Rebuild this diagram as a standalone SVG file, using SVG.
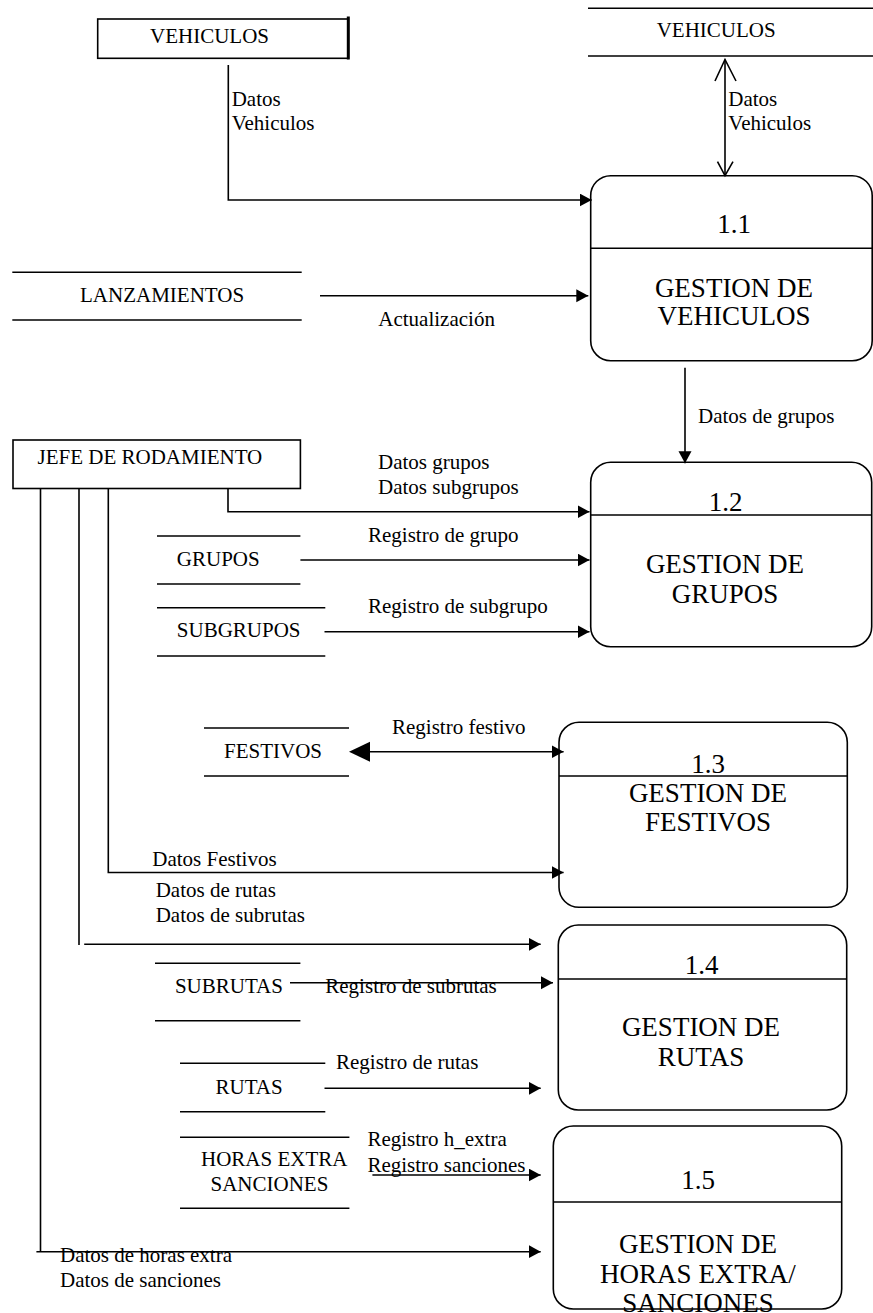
<svg xmlns="http://www.w3.org/2000/svg" width="873" height="1313" viewBox="0 0 873 1313">
<style>
  .bg{fill:#fff}
  .box{fill:none;stroke:#000;stroke-width:1.6}
  .ln{fill:none;stroke:#000;stroke-width:1.6}
  .lbl{font-family:"Liberation Serif","Times New Roman",serif;font-size:21px;fill:#000}
  .big{font-family:"Liberation Serif","Times New Roman",serif;font-size:27px;fill:#000;text-anchor:middle}
  .arr{marker-end:url(#ah)}
</style>
<defs>
  <marker id="ah" markerUnits="userSpaceOnUse" markerWidth="13" markerHeight="14" refX="12" refY="6.5" orient="auto">
    <path d="M0,0 L12,6.5 L0,13 Z" fill="#000"/>
  </marker>
  <marker id="ahBig" markerUnits="userSpaceOnUse" markerWidth="22" markerHeight="22" refX="21" refY="10" orient="auto-start-reverse">
    <path d="M0,0 L21,10 L0,20 Z" fill="#000"/>
  </marker>
</defs>
<rect class="bg" x="0" y="0" width="873" height="1313"/>

<g id="ent-vehiculos">
  <rect class="box" x="97.7" y="19" width="250.6" height="39.3"/>
  <line x1="348.3" y1="16.5" x2="348.3" y2="59.5" stroke="#000" stroke-width="3"/>
  <text class="lbl" x="150" y="42.5">VEHICULOS</text>
</g>

<g id="store-vehiculos">
  <line class="ln" x1="588" y1="8.3" x2="873" y2="8.3"/>
  <line class="ln" x1="588" y1="56" x2="873" y2="56"/>
  <text class="lbl" x="656.7" y="37.3">VEHICULOS</text>
</g>

<g id="store-lanzamientos">
  <line class="ln" x1="12.3" y1="272.3" x2="301.7" y2="272.3"/>
  <line class="ln" x1="12.3" y1="320" x2="301.7" y2="320"/>
  <text class="lbl" x="80" y="302">LANZAMIENTOS</text>
</g>

<g id="ent-jefe">
  <rect class="box" x="13" y="440" width="287.4" height="48.5"/>
  <text class="lbl" x="37.5" y="464">JEFE DE RODAMIENTO</text>
</g>

<g id="store-grupos">
  <line class="ln" x1="157" y1="536" x2="300.4" y2="536"/>
  <line class="ln" x1="157" y1="584" x2="300.4" y2="584"/>
  <text class="lbl" x="176.8" y="566">GRUPOS</text>
</g>

<g id="store-subgrupos">
  <line class="ln" x1="157" y1="607.7" x2="325.3" y2="607.7"/>
  <line class="ln" x1="157" y1="656" x2="325.3" y2="656"/>
  <text class="lbl" x="176.8" y="637">SUBGRUPOS</text>
</g>

<g id="store-festivos">
  <line class="ln" x1="204" y1="728" x2="349" y2="728"/>
  <line class="ln" x1="204" y1="776" x2="349" y2="776"/>
  <text class="lbl" x="224" y="758.3">FESTIVOS</text>
</g>

<g id="store-subrutas">
  <line class="ln" x1="155" y1="963.3" x2="300.4" y2="963.3"/>
  <line class="ln" x1="155" y1="1020.7" x2="300.4" y2="1020.7"/>
  <text class="lbl" x="174.9" y="993.3">SUBRUTAS</text>
</g>

<g id="store-rutas">
  <line class="ln" x1="180" y1="1063.3" x2="325.3" y2="1063.3"/>
  <line class="ln" x1="180" y1="1111.7" x2="325.3" y2="1111.7"/>
  <text class="lbl" x="215.5" y="1094">RUTAS</text>
</g>

<g id="store-horas">
  <line class="ln" x1="180" y1="1137.3" x2="349.4" y2="1137.3"/>
  <line class="ln" x1="180" y1="1208.3" x2="349.4" y2="1208.3"/>
  <text class="lbl" x="201" y="1166">HORAS EXTRA</text>
  <text class="lbl" x="210.5" y="1190.7">SANCIONES</text>
</g>

<g id="proc-1-1">
  <rect class="box" x="590.7" y="175.7" width="281.5" height="185" rx="20"/>
  <line class="ln" x1="590.7" y1="248.3" x2="872.2" y2="248.3"/>
  <text class="big" x="734" y="233">1.1</text>
  <text class="big" x="734" y="296.7">GESTION DE</text>
  <text class="big" x="734" y="325">VEHICULOS</text>
</g>

<g id="proc-1-2">
  <rect class="box" x="590.7" y="462.3" width="281" height="184.4" rx="20"/>
  <line class="ln" x1="590.7" y1="515" x2="871.7" y2="515"/>
  <text class="big" x="725.5" y="511">1.2</text>
  <text class="big" x="725" y="573">GESTION DE</text>
  <text class="big" x="725" y="602.7">GRUPOS</text>
</g>

<g id="proc-1-3">
  <rect class="box" x="559" y="722.3" width="288.3" height="185" rx="20"/>
  <line class="ln" x1="559" y1="776" x2="847.3" y2="776"/>
  <text class="big" x="708" y="772.7">1.3</text>
  <text class="big" x="708" y="801.7">GESTION DE</text>
  <text class="big" x="708" y="830.7">FESTIVOS</text>
</g>

<g id="proc-1-4">
  <rect class="box" x="558.3" y="925" width="288.4" height="185" rx="20"/>
  <line class="ln" x1="558.3" y1="979" x2="846.7" y2="979"/>
  <text class="big" x="701.5" y="974">1.4</text>
  <text class="big" x="701" y="1036">GESTION DE</text>
  <text class="big" x="701" y="1066">RUTAS</text>
</g>

<g id="proc-1-5">
  <rect class="box" x="553.3" y="1126" width="288.4" height="183" rx="20"/>
  <line class="ln" x1="553.3" y1="1202" x2="841.7" y2="1202"/>
  <text class="big" x="698" y="1189">1.5</text>
  <text class="big" x="698" y="1253">GESTION DE</text>
  <text class="big" x="698" y="1282.5">HORAS EXTRA/</text>
  <text class="big" x="698" y="1311.5">SANCIONES</text>
</g>

<g id="connectors">
  <!-- VEHICULOS entity to 1.1 -->
  <path class="ln arr" d="M228.3,65 V200 H591.7"/>
  <!-- store VEHICULOS <-> 1.1 -->
  <line class="ln" x1="725" y1="59.5" x2="725" y2="175.7"/>
  <path class="ln" d="M715,81 L725,59.5 L736,81"/>
  <path class="ln" d="M717.5,161.7 L725,175.7 L733,161.7"/>
  <!-- LANZAMIENTOS to 1.1 -->
  <line class="ln arr" x1="320" y1="295.7" x2="588.3" y2="295.7"/>
  <!-- 1.1 to 1.2 -->
  <line class="ln arr" x1="685" y1="367.7" x2="685" y2="463.3"/>
  <!-- JEFE to 1.2 -->
  <path class="ln arr" d="M228,488.5 V511.7 H589.5"/>
  <!-- GRUPOS / SUBGRUPOS to 1.2 -->
  <line class="ln arr" x1="300.4" y1="560" x2="589.5" y2="560"/>
  <line class="ln arr" x1="324.5" y1="631.7" x2="589.5" y2="631.7"/>
  <!-- FESTIVOS <-> 1.3 -->
  <line class="ln arr" x1="352" y1="751.7" x2="563.6" y2="751.7"/>
  <path d="M349,751.7 L370,741.7 L370,761.7 Z" fill="#000"/>
  <!-- JEFE to 1.3 -->
  <path class="ln arr" d="M108.3,488.5 V872.5 H563.6"/>
  <!-- JEFE to 1.4 -->
  <line class="ln" x1="79" y1="488.5" x2="79" y2="945"/>
  <line class="ln arr" x1="84.2" y1="944.3" x2="540.7" y2="944.3"/>
  <!-- SUBRUTAS / RUTAS to 1.4 -->
  <line class="ln arr" x1="290" y1="982.7" x2="553" y2="982.7"/>
  <line class="ln arr" x1="324.5" y1="1088.3" x2="540.7" y2="1088.3"/>
  <!-- HORAS EXTRA to 1.5 -->
  <line class="ln arr" x1="372.4" y1="1175" x2="540.7" y2="1175"/>
  <!-- JEFE to 1.5 -->
  <line class="ln" x1="40.5" y1="488.5" x2="40.5" y2="1251.7"/>
  <line class="ln arr" x1="36.4" y1="1251.7" x2="540.7" y2="1251.7"/>

  <!-- labels -->
  <text class="lbl" x="231.7" y="106">Datos</text>
  <text class="lbl" x="231.7" y="129.5">Vehiculos</text>
  <text class="lbl" x="728.3" y="106">Datos</text>
  <text class="lbl" x="728.3" y="130">Vehiculos</text>
  <text class="lbl" x="378.3" y="326">Actualización</text>
  <text class="lbl" x="698" y="423">Datos de grupos</text>
  <text class="lbl" x="378" y="469">Datos grupos</text>
  <text class="lbl" x="378" y="494">Datos subgrupos</text>
  <text class="lbl" x="368" y="541.7">Registro de grupo</text>
  <text class="lbl" x="368" y="613">Registro de subgrupo</text>
  <text class="lbl" x="392" y="734">Registro festivo</text>
  <text class="lbl" x="152.3" y="865.7">Datos Festivos</text>
  <text class="lbl" x="155.7" y="896.7">Datos de rutas</text>
  <text class="lbl" x="155.7" y="921.7">Datos de subrutas</text>
  <text class="lbl" x="325.3" y="993.3">Registro de subrutas</text>
  <text class="lbl" x="336" y="1069.3">Registro de rutas</text>
  <text class="lbl" x="367.4" y="1146">Registro h_extra</text>
  <text class="lbl" x="367.4" y="1171.5">Registro sanciones</text>
  <text class="lbl" x="60" y="1261.7">Datos de horas extra</text>
  <text class="lbl" x="60" y="1286.7">Datos de sanciones</text>
</g>
</svg>
